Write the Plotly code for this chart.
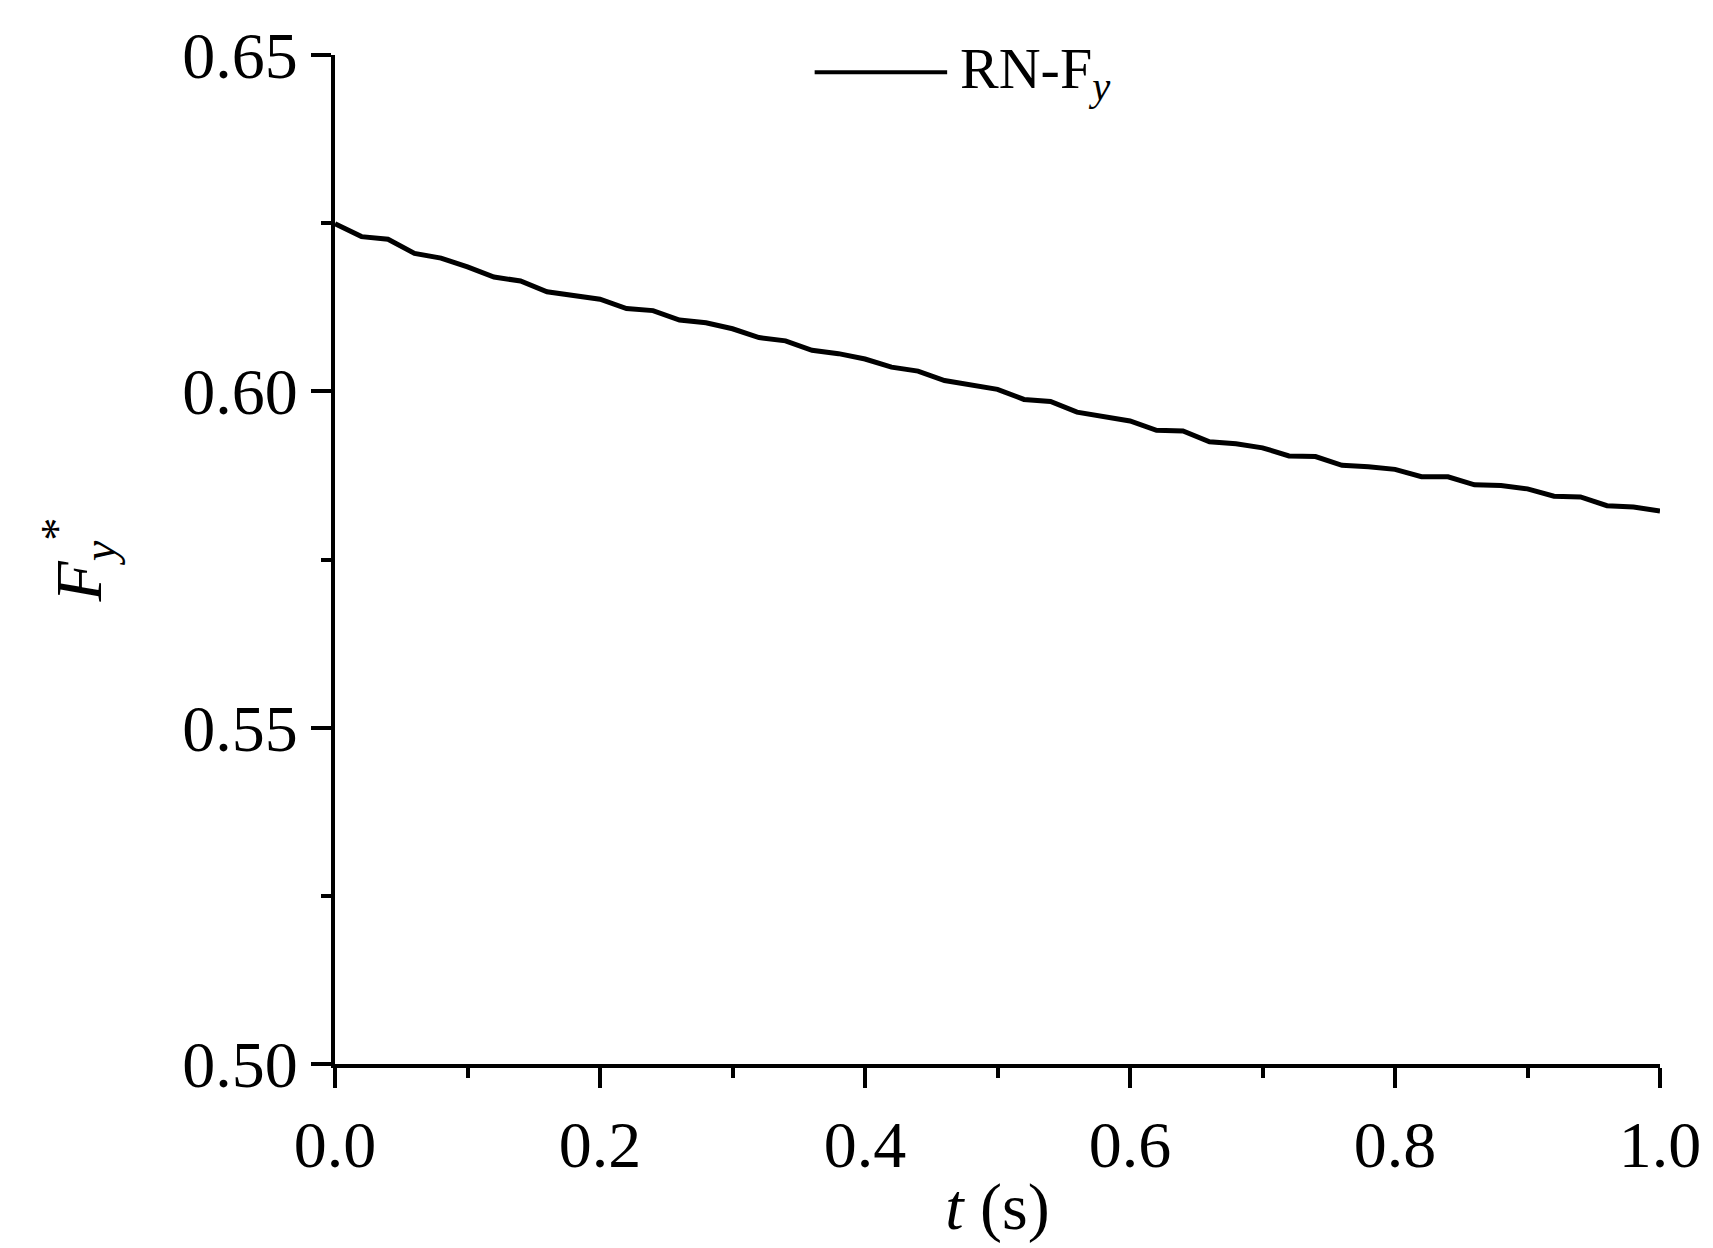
import plotly.graph_objects as go

t = [i * 0.02 for i in range(51)]
fy = [0.6246, 0.6232, 0.6222, 0.6208, 0.6196, 0.6182, 0.6172, 0.6160, 0.6151, 0.6141,
      0.6134, 0.6125, 0.6116, 0.6109, 0.6100, 0.6090, 0.6082, 0.6071, 0.6064, 0.6054,
      0.6045, 0.6038, 0.6026, 0.6019, 0.6008, 0.6000, 0.5990, 0.5981, 0.5972, 0.5961,
      0.5953, 0.5944, 0.5937, 0.5928, 0.5920, 0.5913, 0.5906, 0.5899, 0.5893, 0.5886,
      0.5881, 0.5875, 0.5869, 0.5864, 0.5858, 0.5852, 0.5846, 0.5839, 0.5833, 0.5826,
      0.5819]
wiggle = [0.0003, -0.0002, 0.0004, -0.0003, 0.0002]
fy = [v + wiggle[i % 5] for i, v in enumerate(fy)]

font = "Liberation Serif, Times New Roman, serif"

fig = go.Figure()
fig.add_trace(go.Scatter(x=t, y=fy, mode="lines", line=dict(color="black", width=5),
                         showlegend=False))

fig.add_shape(type="line", xref="paper", yref="paper", x0=0.362, x1=0.462, y0=0.983, y1=0.983,
              line=dict(color="black", width=4))
fig.add_annotation(xref="paper", yref="paper", x=0.47, y=0.983, xanchor="left", yanchor="middle",
                   text="RN-F<sub><i>y</i></sub>", showarrow=False,
                   font=dict(family=font, size=58, color="black"))

axis_common = dict(showgrid=False, zeroline=False, showline=True, linecolor="black", linewidth=4,
                   ticks="outside", ticklen=20, tickwidth=4, tickcolor="black",
                   tickfont=dict(family=font, size=66, color="black"))

fig.update_xaxes(range=[0, 1.0], tickvals=[0, 0.2, 0.4, 0.6, 0.8, 1.0], tickformat=".1f",
                 title=dict(text="<i>t</i> (s)", font=dict(family=font, size=66, color="black"),
                            standoff=4),
                 minor=dict(tickvals=[0.1, 0.3, 0.5, 0.7, 0.9], ticklen=10, tickwidth=4,
                            tickcolor="black", ticks="outside"),
                 **axis_common)
fig.update_yaxes(range=[0.50, 0.65], tickvals=[0.50, 0.55, 0.60, 0.65], tickformat=".2f",
                 title=dict(text="<i>F</i><sub><i>y</i></sub><sup>*</sup>",
                            font=dict(family=font, size=66, color="black"), standoff=60),
                 minor=dict(tickvals=[0.525, 0.575, 0.625], ticklen=10, tickwidth=4,
                            tickcolor="black", ticks="outside"),
                 **axis_common)

fig.update_layout(width=1713, height=1248, plot_bgcolor="white", paper_bgcolor="white",
                  margin=dict(l=327, r=61, t=47, b=192))
fig.write_html("out.html")
